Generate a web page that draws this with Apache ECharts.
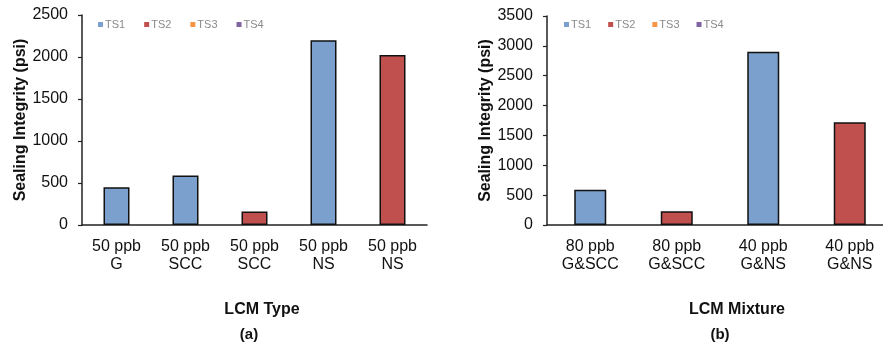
<!DOCTYPE html>
<html>
<head>
<meta charset="utf-8">
<script src="https://cdn.jsdelivr.net/npm/echarts@6/dist/echarts.min.js"></script>
<style>
  html, body { margin: 0; padding: 0; background: #fff; }
  #chart { width: 883px; height: 346px; }
</style>
</head>
<body>
<div id="chart"></div>
<script>
// Panel (a): sealing integrity by LCM type
const typeCategories = ['50 ppb\nG', '50 ppb\nSCC', '50 ppb\nSCC', '50 ppb\nNS', '50 ppb\nNS'];
const typeTS1 = [450, 590, '-', 2200, '-'];
const typeTS2 = ['-', '-', 160, '-', 2025];
const typeTS3 = ['-', '-', '-', '-', '-'];
const typeTS4 = ['-', '-', '-', '-', '-'];

// Panel (b): sealing integrity by LCM mixture
const mixCategories = ['80 ppb\nG&SCC', '80 ppb\nG&SCC', '40 ppb\nG&NS', '40 ppb\nG&NS'];
const mixTS1 = [590, '-', 2900, '-'];
const mixTS2 = ['-', 230, '-', 1720];
const mixTS3 = ['-', '-', '-', '-'];
const mixTS4 = ['-', '-', '-', '-'];

const seriesNames = ['TS1', 'TS2', 'TS3', 'TS4'];
const seriesColors = ['#7BA0CD', '#C0504D', '#F79646', '#8064A2'];

const FONT = '"Liberation Sans", Arial, sans-serif';

const chart = echarts.init(document.getElementById('chart'), null, { renderer: 'canvas' });

function xAxisFor(gridIndex, cats) {
  return {
    type: 'category',
    gridIndex,
    data: cats,
    axisLine: { lineStyle: { color: '#222', width: 1.5 } },
    axisTick: { show: false },
    axisLabel: {
      interval: 0, margin: 13, fontFamily: FONT, fontSize: 16,
      lineHeight: 18, color: '#111'
    }
  };
}

function yAxisFor(gridIndex, max) {
  return {
    type: 'value',
    gridIndex,
    min: 0, max, interval: 500,
    name: 'Sealing Integrity (psi)',
    nameLocation: 'middle',
    nameRotate: 90,
    nameGap: 52,
    nameTextStyle: { fontFamily: FONT, fontSize: 16, fontWeight: 'bold', color: '#111' },
    axisLine: { show: true, lineStyle: { color: '#222', width: 1.5 } },
    axisTick: { show: true, length: 4, lineStyle: { color: '#222', width: 1.2 } },
    splitLine: { show: false },
    axisLabel: {
      margin: 14, fontFamily: FONT, fontSize: 16, color: '#111',
      formatter: (v) => String(v)
    }
  };
}

function barSeries(axisIndex, lists, width) {
  return lists.map((data, i) => ({
    name: seriesNames[i],
    type: 'bar',
    xAxisIndex: axisIndex,
    yAxisIndex: axisIndex,
    stack: 'panel' + axisIndex,
    barWidth: width,
    data,
    itemStyle: { color: seriesColors[i], borderColor: '#111', borderWidth: 1.5 }
  }));
}

function legendFor(left, gap) {
  return {
    left, top: 14,
    data: seriesNames,
    icon: 'rect',
    itemWidth: 5, itemHeight: 5,
    itemGap: gap,
    itemStyle: { borderWidth: 0 },
    textStyle: { fontFamily: FONT, fontSize: 11, color: '#8a8a8a', padding: [0, 0, 0, -3] },
    selectedMode: false
  };
}

chart.setOption({
  animation: false,
  textStyle: { fontFamily: FONT },
  grid: [
    { left: 82, right: 456, top: 15, bottom: 121, outerBoundsMode: 'none' },
    { left: 547, right: -10, top: 16, bottom: 121, outerBoundsMode: 'none' }
  ],
  legend: [legendFor(93, 19), legendFor(559, 17)],
  xAxis: [xAxisFor(0, typeCategories), xAxisFor(1, mixCategories)],
  yAxis: [yAxisFor(0, 2500), yAxisFor(1, 3500)],
  title: [
    { text: 'LCM Type', left: 257, top: 297, textAlign: 'center',
      textStyle: { fontFamily: FONT, fontSize: 16, fontWeight: 'bold', color: '#111' } },
    { text: '(a)', left: 244, top: 322, textAlign: 'center',
      textStyle: { fontFamily: FONT, fontSize: 15, fontWeight: 'bold', color: '#111' } },
    { text: 'LCM Mixture', left: 732, top: 297, textAlign: 'center',
      textStyle: { fontFamily: FONT, fontSize: 16, fontWeight: 'bold', color: '#111' } },
    { text: '(b)', left: 715, top: 322, textAlign: 'center',
      textStyle: { fontFamily: FONT, fontSize: 15, fontWeight: 'bold', color: '#111' } }
  ],
  series: [
    ...barSeries(0, [typeTS1, typeTS2, typeTS3, typeTS4], 26),
    ...barSeries(1, [mixTS1, mixTS2, mixTS3, mixTS4], 32)
  ]
});
</script>
</body>
</html>
